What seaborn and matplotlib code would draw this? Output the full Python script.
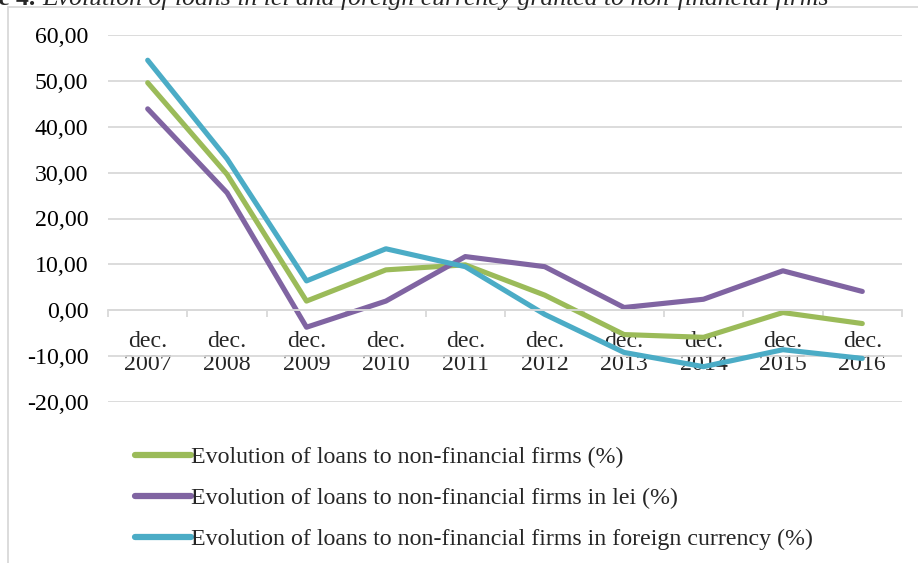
import matplotlib
matplotlib.use("Agg")
import matplotlib.pyplot as plt
import seaborn as sns
import pandas as pd
import numpy as np
from matplotlib.patches import Rectangle
from matplotlib.ticker import FixedLocator, FuncFormatter

sns.set_theme(style="white")
plt.rcParams["font.family"] = ["Liberation Serif", "DejaVu Serif"]

periods = ["dec.\n2007", "dec.\n2008", "dec.\n2009", "dec.\n2010", "dec.\n2011",
           "dec.\n2012", "dec.\n2013", "dec.\n2014", "dec.\n2015", "dec.\n2016"]
total = [49.6, 29.6, 2.0, 8.8, 9.9, 3.3, -5.3, -5.9, -0.5, -2.9]
lei = [43.9, 25.6, -3.7, 2.0, 11.7, 9.5, 0.6, 2.4, 8.6, 4.1]
foreign = [54.5, 33.0, 6.4, 13.4, 9.5, -0.9, -9.2, -12.3, -8.6, -10.5]

series_names = [
    "Evolution of loans to non-financial firms (%)",
    "Evolution of loans to non-financial firms in lei (%)",
    "Evolution of loans to non-financial firms in foreign currency (%)",
]
colors = ["#9BBB59", "#8064A2", "#4BACC6"]

df = pd.DataFrame({
    "pos": list(range(len(periods))) * 3,
    "value": total + lei + foreign,
    "series": [series_names[0]] * len(periods)
              + [series_names[1]] * len(periods)
              + [series_names[2]] * len(periods),
})

W, H = 918, 563
FS = 17.2
fig = plt.figure(figsize=(W / 100, H / 100), dpi=100)
ax = fig.add_axes([108 / W, 1 - 402 / H, (902 - 108) / W, (402 - 35) / H])

sns.lineplot(data=df, x="pos", y="value", hue="series", hue_order=series_names,
             palette=colors, linewidth=3.7, ax=ax, legend=True)

ax.set_xlim(-0.5, len(periods) - 0.5)
ax.set_ylim(-20, 60)
ax.set_xlabel("")
ax.set_ylabel("")

# horizontal gridlines
ax.yaxis.set_major_locator(FixedLocator(np.arange(-20, 61, 10)))
ax.yaxis.set_major_formatter(FuncFormatter(lambda v, p: f"{v:.2f}".replace(".", ",")))
ax.grid(axis="y", color="#D9D9D9", linewidth=1.3)
ax.grid(axis="x", visible=False)
ax.set_axisbelow(True)
for s in ["top", "right", "left"]:
    ax.spines[s].set_visible(False)
ax.spines["bottom"].set_position(("data", 0))
ax.spines["bottom"].set_color("#D9D9D9")
ax.spines["bottom"].set_linewidth(1.3)

ax.tick_params(axis="y", length=0, pad=14, labelsize=FS, colors="black")
ax.set_xticks(range(len(periods)))
ax.set_xticklabels(periods)
ax.xaxis.set_minor_locator(FixedLocator(np.arange(-0.5, len(periods), 1)))
ax.tick_params(axis="x", which="major", length=0, pad=15, labelsize=FS)
ax.tick_params(axis="x", which="minor", length=5, width=1.3, color="#D9D9D9",
               direction="out", bottom=True)
for lbl in ax.get_xticklabels():
    lbl.set_linespacing(1.15)

# legend below the plot area
handles, labels = ax.get_legend_handles_labels()
ax.legend(handles, labels, loc="upper left", bbox_to_anchor=(125 / W, 1 - 437 / H),
          bbox_transform=fig.transFigure, frameon=False, fontsize=FS,
          handlelength=2.35, handletextpad=0.03, labelspacing=0.8, borderaxespad=0)
for ln in ax.get_legend().get_lines():
    ln.set_linewidth(4.5)

# chart frame
fig.patches.append(Rectangle((8 / W, -0.05), 1.2, 1 - 7 / H + 0.05,
                             transform=fig.transFigure, fill=False,
                             edgecolor="#D9D9D9", linewidth=1.3))

# caption above the frame
fig.text(42 / W, 1 - 4.5 / H, "Figure 4. ", fontsize=18.5, fontweight="bold",
         va="baseline", ha="right")
fig.text(42 / W, 1 - 4.5 / H,
         "Evolution of loans in lei and foreign currency granted to non-financial firms",
         fontsize=18.5, style="italic", va="baseline", ha="left")

fig.savefig("out.png", dpi=100, facecolor="white")
